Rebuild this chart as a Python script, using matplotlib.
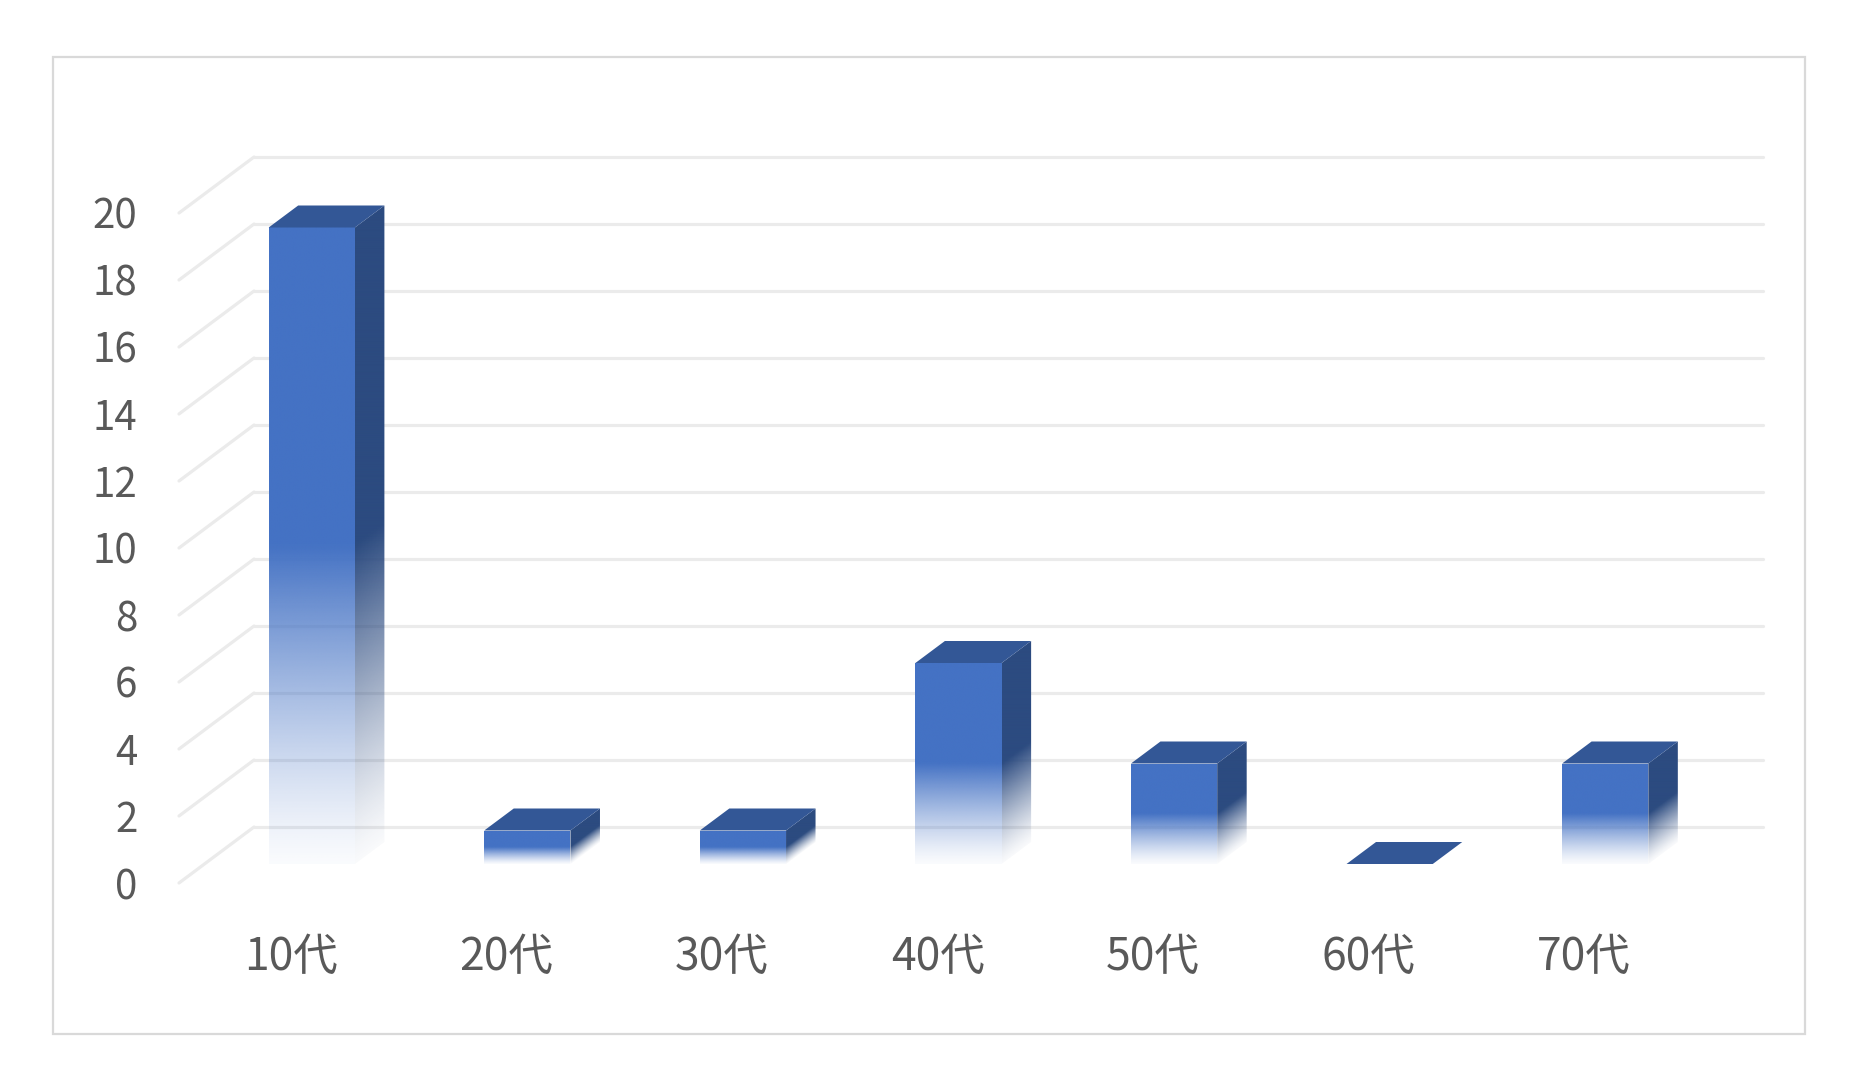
import numpy as np
import matplotlib
matplotlib.use("Agg")
import matplotlib.pyplot as plt
from matplotlib.patches import Polygon, Rectangle
from matplotlib.transforms import ScaledTranslation

# --- data -----------------------------------------------------------------
categories = ["10代", "20代", "30代", "40代", "50代", "60代", "70代"]
counts = [19, 1, 1, 6, 3, 0, 3]
y_ticks = [0, 2, 4, 6, 8, 10, 12, 14, 16, 18, 20]

# --- style ----------------------------------------------------------------
plt.rcParams["font.family"] = ["Noto Sans CJK JP", "DejaVu Sans"]
FRONT = np.array([68, 114, 196]) / 255.0
SIDE = np.array([44, 75, 128]) / 255.0
TOP = "#335796"
GRID = "#ebebeb"
TEXT = "#595959"

W_PX, H_PX = 1853, 1088
fig = plt.figure(figsize=(W_PX / 100, H_PX / 100), dpi=100)

# axes spans the plane of the bar front faces
ax_left, ax_right = 204.0, 1713.0
ax_bottom_img, unit_px = 864.0, 33.5
ax_h = 20 * unit_px
ax = fig.add_axes([ax_left / W_PX, (H_PX - ax_bottom_img) / H_PX,
                   (ax_right - ax_left) / W_PX, ax_h / H_PX])
ax.set_xlim(-0.5, 6.5)
ax.set_ylim(0, 20)
for s in ax.spines.values():
    s.set_visible(False)

px_x = (ax_right - ax_left) / 7.0
px_y = unit_px


def depth(dx_px, dy_px):
    return dx_px / px_x, dy_px / px_y


fdx, fdy = depth(-25, -19)     # floor front edge
bdx, bdy = depth(29.5, 22)     # bar depth
wdx, wdy = depth(50, 37)       # back wall
bar_w = 0.4

# --- walls / gridlines -----------------------------------------------------
for v in y_ticks:
    ax.plot([-0.5 + wdx, 6.5 + wdx], [v + wdy, v + wdy], color=GRID, lw=2.3,
            solid_capstyle="round", zorder=1, clip_on=False)
    ax.plot([-0.5 + fdx, -0.5 + wdx], [v + fdy, v + wdy], color=GRID, lw=2.3,
            solid_capstyle="round", zorder=1, clip_on=False)


def fade_alpha(v, h):
    t = np.clip(v / (0.5 * h), 0, 1)
    return 0.03 + 0.97 * t ** 1.25


def gradient_face(pts, rgb, h, x_front, skew):
    pts = np.asarray(pts)
    x0, y0 = pts.min(axis=0)
    x1, y1 = pts.max(axis=0)
    n = 300
    xs = np.linspace(x0, x1, n)
    ys = np.linspace(y0, y1, n)
    X, Y = np.meshgrid(xs, ys)
    if skew:
        frac = np.clip((X - x_front) / bdx, 0, 1)
        V = Y - frac * bdy
    else:
        V = Y
    A = fade_alpha(V, h)
    img = np.zeros((n, n, 4))
    img[..., :3] = rgb
    img[..., 3] = A
    im = ax.imshow(img, extent=(x0, x1, y0, y1), origin="lower",
                   aspect="auto", interpolation="bilinear", zorder=3)
    clip = Polygon(pts, closed=True, transform=ax.transData)
    im.set_clip_path(clip)


# --- bars ------------------------------------------------------------------
for i, h in enumerate(counts):
    xl, xr = i - bar_w / 2, i + bar_w / 2
    if h > 0:
        gradient_face([(xl, 0), (xr, 0), (xr, h), (xl, h)], FRONT, h, xl, False)
        gradient_face([(xr, 0), (xr + bdx, bdy), (xr + bdx, h + bdy), (xr, h)],
                      SIDE, h, xr, True)
    ax.add_patch(Polygon([(xl, h), (xr, h), (xr + bdx, h + bdy), (xl + bdx, h + bdy)],
                         closed=True, facecolor=TOP, edgecolor="none", zorder=4))

ax.set_xlim(-0.5, 6.5)
ax.set_ylim(0, 20)

# --- tick labels on the floor front edge -----------------------------------
ax.set_xticks(range(len(categories)), categories)
ax.set_yticks(y_ticks, [str(v) for v in y_ticks])
ax.tick_params(axis="both", length=0, labelcolor=TEXT)
ax.tick_params(axis="x", pad=37, labelsize=32)
ax.tick_params(axis="y", pad=30, labelsize=29)
x_shift = ScaledTranslation(-21 / 100, -19 / 100, fig.dpi_scale_trans)
y_shift = ScaledTranslation(-25 / 100, -19 / 100, fig.dpi_scale_trans)
for lbl in ax.get_xticklabels():
    lbl.set_transform(lbl.get_transform() + x_shift)
for lbl in ax.get_yticklabels():
    lbl.set_transform(lbl.get_transform() + y_shift)

# --- chart border ------------------------------------------------------------
fig.add_artist(Rectangle((53 / W_PX, (H_PX - 1034) / H_PX),
                         (1805 - 53) / W_PX, (1034 - 57) / H_PX,
                         transform=fig.transFigure, fill=False,
                         edgecolor="#d9d9d9", linewidth=1.6))

fig.savefig("out.png", dpi=100, facecolor="white")
